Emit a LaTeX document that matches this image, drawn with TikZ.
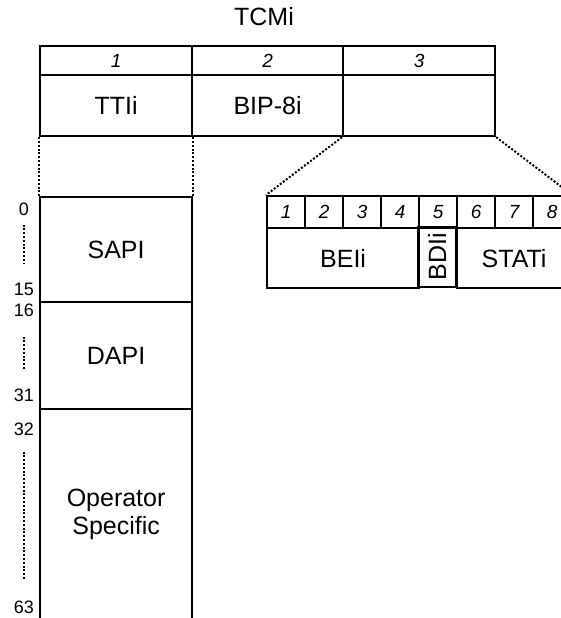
\documentclass[tikz,border=0pt]{standalone}
\usepackage{fontspec}
\setmainfont{Liberation Sans}
\usetikzlibrary{calc}
\tikzset{
  cell/.style={draw,line width=2.2pt,inner sep=0pt,anchor=north west,font=\fontsize{25}{28}\selectfont},
  numcell/.style={cell,font=\fontsize{19}{21}\selectfont\itshape},
  rownum/.style={inner sep=0pt,font=\fontsize{18}{20}\selectfont},
  dots/.style={line width=2pt,dash pattern=on 2pt off 1.8pt}
}
\begin{document}
\begin{tikzpicture}[x=1pt,y=-1pt]
\useasboundingbox (0,0) rectangle (560,618);

\node[font=\fontsize{25}{28}\selectfont] (tcm) at (264,17) {TCMi};

% TCMi bytes
\node[numcell,minimum width=152pt,minimum height=29pt] (n1) at (39,45) {1};
\node[numcell,minimum width=151pt,minimum height=29pt] (n2) at (191,45) {2};
\node[numcell,minimum width=152pt,minimum height=29pt] (n3) at (342,45) {3};
\node[cell,minimum width=152pt,minimum height=61pt] (tti) at (39,74) {TTIi};
\node[cell,minimum width=151pt,minimum height=61pt] (bip) at (191,74) {BIP-8i};
\node[cell,minimum width=152pt,minimum height=61pt] (spare) at (342,74) {};

% trail trace identifier
\node[cell,minimum width=152pt,minimum height=105pt] (sapi) at (39,196) {SAPI};
\node[cell,minimum width=152pt,minimum height=107pt] (dapi) at (39,301) {DAPI};
\node[cell,minimum width=152pt,minimum height=210pt,align=center] (opspec) at (39,408) {Operator\\Specific};

\node[rownum] (r0) at (24,209) {0};
\node[rownum] (r15) at (24,289) {15};
\node[rownum] (r16) at (24,310) {16};
\node[rownum] (r31) at (24,395) {31};
\node[rownum] (r32) at (24,429) {32};
\node[rownum] (r63) at (24,607) {63};
\draw[dots,shorten <=9pt,shorten >=19pt] (r0) -- (r15);
\draw[dots,shorten <=20pt,shorten >=18pt] (r16) -- (r31);
\draw[dots,shorten <=16pt,shorten >=20pt] (r32) -- (r63);

% byte 3 bits
\foreach \i in {1,...,8}
  \node[numcell,minimum width=38pt,minimum height=32pt] (b\i) at ({266+38*(\i-1)},195) {\i};
\node[cell,minimum width=152pt,minimum height=60pt] (bei) at (266,227) {BEIi};
\node[cell,rotate=90,anchor=center,minimum width=60pt,minimum height=38pt] (bdi) at (437,257) {BDIi};
\node[cell,minimum width=114pt,minimum height=60pt] (stat) at (456,227) {STATi};

% expansion lines
\draw[dots] (tti.south west) -- (sapi.north west);
\draw[dots] (tti.south east) -- (sapi.north east);
\draw[dots] (spare.south west) -- (b1.north west);
\draw[dots] (spare.south east) -- (b8.north east);

\end{tikzpicture}
\end{document}
